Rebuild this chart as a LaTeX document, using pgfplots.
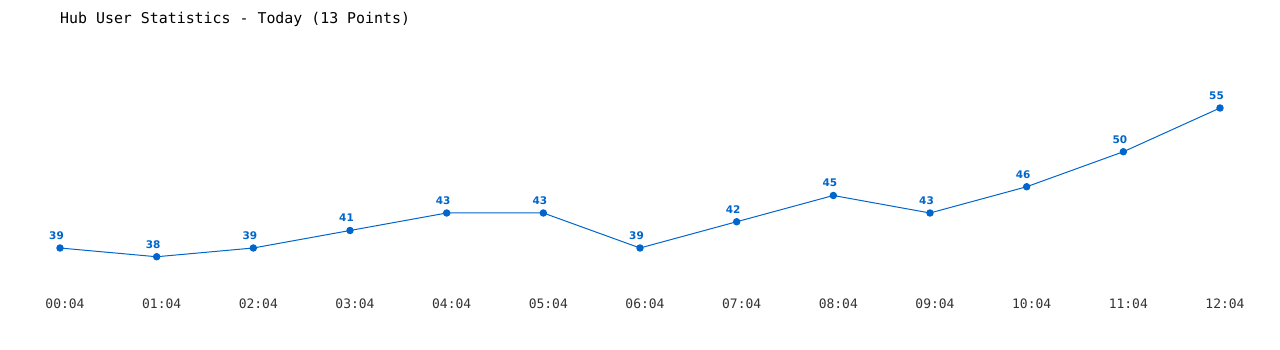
\documentclass[border=0pt]{standalone}
\usepackage{pgfplots}
\pgfplotsset{compat=1.18}
\usepackage{fontspec}
\setmainfont{DejaVu Sans}
\newfontfamily\monofont{DejaVu Sans Mono}
\definecolor{lineblue}{RGB}{0,102,204}
\definecolor{ticktext}{RGB}{51,51,51}
\begin{document}
\begin{tikzpicture}
\path[fill=white] (0,0) rectangle (1280pt,350pt);
\node[anchor=west, inner sep=0pt, text=black] at (60pt,330.5pt) {\monofont\fontsize{14.9}{16}\selectfont Hub User Statistics - Today (13 Points)};
\begin{axis}[
  at={(60pt,58.25pt)}, anchor=south west,
  scale only axis, width=1160pt, height=227.5pt,
  xmin=0, xmax=12, ymin=34, ymax=60,
  axis line style={draw=none},
  major tick length=0pt,
  ytick=\empty,
  xtick=data,
  xticklabels={00:04,01:04,02:04,03:04,04:04,05:04,06:04,07:04,08:04,09:04,10:04,11:04,12:04},
  xticklabel style={font=\monofont\fontsize{13}{15}\selectfont, text=ticktext, yshift=-3.5pt, xshift=5pt},
  /pgf/number format/assume math mode=true,
  clip=false,
  nodes near coords,
  every node near coord/.append style={font=\bfseries\fontsize{10.5}{12}\selectfont, text=lineblue, anchor=south, inner sep=0pt, yshift=8pt, xshift=-3.5pt},
]
\addplot[color=lineblue, line width=1pt, mark=*, mark size=3.2pt, mark options={fill=lineblue, draw=lineblue}] coordinates {
(0,39) (1,38) (2,39) (3,41) (4,43) (5,43) (6,39) (7,42) (8,45) (9,43) (10,46) (11,50) (12,55)
};
\end{axis}
\pgfresetboundingbox
\path[use as bounding box] (0,0) rectangle (1280pt,350pt);
\end{tikzpicture}
\end{document}
